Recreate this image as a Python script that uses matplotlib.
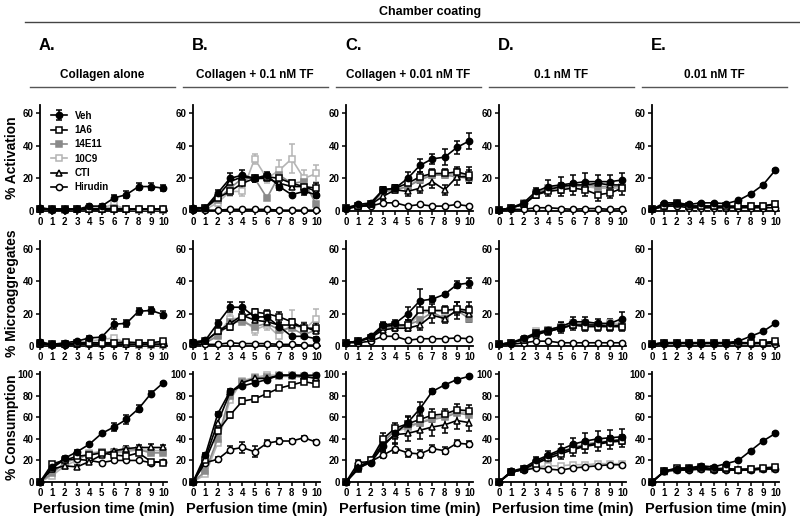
import numpy as np
import matplotlib.pyplot as plt
from matplotlib.lines import Line2D

plt.rcParams['font.family'] = ['Liberation Sans', 'DejaVu Sans']
plt.rcParams['font.weight'] = 'bold'

# Perfusion time (min)
minutes = list(range(11))
series = ['Veh', '1A6', '14E11', '10C9', 'CTI', 'Hirudin']

# % Activation
act_A = {'Veh': [2, 1, 1, 1, 3, 3, 8, 10, 15, 15, 14],
         '1A6': [1, 1, 1, 1, 1, 1, 1, 1, 1, 1, 1],
         '14E11': [1, 0.5, 0.5, 1, 1, 1.5, 2, 1, 0.5, 0.5, 0.5],
         '10C9': [1, 1, 1, 1, 2, 2, 4, 1, 1, 1, 1],
         'CTI': [1, 1, 1, 1, 1, 1, 1, 1, 1, 1, 1],
         'Hirudin': [1, 0.5, 0.5, 1, 1, 1, 1, 1, 1, 1, 1]}
act_B = {'Veh': [2, 2, 11, 20, 22, 20, 22, 15, 10, 12, 10],
         '1A6': [1, 2, 8, 12, 17, 20, 21, 20, 17, 15, 14],
         '14E11': [1, 2, 7, 14, 20, 20, 8, 22, 17, 18, 4],
         '10C9': [1, 1, 5, 12, 12, 32, 20, 25, 32, 20, 23],
         'CTI': [1, 2, 9, 18, 21, 20, 20, 17, 15, 15, 12],
         'Hirudin': [0.5, 0.5, 0.5, 1, 1, 1, 1, 0.5, 0.5, 0.5, 0.5]}
act_C = {'Veh': [2, 4, 5, 13, 14, 20, 28, 32, 33, 39, 43],
         '1A6': [2, 3, 4, 13, 14, 17, 21, 23, 23, 24, 22],
         '14E11': [2, 3, 4, 12, 13, 15, 19, 22, 22, 21, 20],
         '10C9': [2, 3, 4, 12, 13, 15, 20, 22, 22, 23, 21],
         'CTI': [2, 3, 4, 9, 13, 12, 14, 18, 13, 21, 21],
         'Hirudin': [1, 3, 3, 5, 5, 3, 4, 3, 3, 4, 3]}
act_D = {'Veh': [0.5, 2, 5, 12, 15, 16, 17, 18, 18, 18, 19],
         '1A6': [0.5, 2, 4, 10, 12, 13, 14, 13, 10, 11, 14],
         '14E11': [0.5, 2, 5, 11, 14, 15, 15, 16, 15, 15, 15],
         '10C9': [0.5, 2, 4, 11, 13, 14, 15, 15, 14, 14, 14],
         'CTI': [0.5, 2, 4, 10, 13, 15, 16, 16, 17, 16, 16],
         'Hirudin': [0.5, 1, 1, 2, 2, 1.5, 1, 1.5, 1.5, 1, 1.5]}
act_E = {'Veh': [1, 5, 5, 4, 5, 5, 4.5, 6.5, 10.5, 16, 25],
         '1A6': [1, 3, 5, 3, 3, 3, 3, 3, 3, 3, 4],
         '14E11': [1, 3, 4, 3, 3, 3, 3, 3, 3, 3, 4],
         '10C9': [1, 3, 4, 2, 2, 2, 2, 3, 3, 3, 4],
         'CTI': [1, 4, 4, 3, 3, 3, 2, 3, 3, 3, 4.5],
         'Hirudin': [1, 3, 3, 2, 2, 2, 2, 2, 2, 2, 2]}

# % Microaggregates
mic_A = {'Veh': [2.5, 1, 2, 3, 5, 5.5, 13.5, 14, 21.5, 22, 19.5],
         '1A6': [2, 1, 1, 2, 2, 2, 2, 2.5, 2, 2, 3],
         '14E11': [1, 0.5, 1, 1, 1, 1.5, 2, 1, 0.5, 0.5, 0.5],
         '10C9': [1.5, 1, 1.5, 2, 3, 4, 5, 2, 2, 2, 2],
         'CTI': [1.5, 1, 1, 1.5, 2, 2, 1, 1, 1, 1, 1],
         'Hirudin': [1, 0.5, 0.5, 1, 1, 1, 1, 1, 1, 1, 1]}
mic_B = {'Veh': [2.5, 3.5, 14, 24, 24, 18, 18, 12, 6, 6, 4.5],
         '1A6': [2, 3, 9, 12, 18, 21, 20, 18, 15, 11, 11],
         '14E11': [1, 2, 6, 15, 15, 12, 14, 10, 11, 7, 10],
         '10C9': [1, 2, 7, 17, 17, 10, 13, 6, 14, 10, 17],
         'CTI': [1, 3, 9, 14, 19, 16, 15, 13, 13, 12, 9],
         'Hirudin': [1, 1, 1, 2, 1.5, 1.5, 1.5, 1, 1, 0.5, 0.5]}
mic_C = {'Veh': [2, 3, 6, 13, 14, 20, 28, 29, 32, 38, 39],
         '1A6': [2, 3, 5, 12, 13, 13, 22, 22, 22, 23, 22],
         '14E11': [2, 3, 5, 12, 12, 13, 16, 21, 17, 22, 17],
         '10C9': [2, 3, 5, 11, 12, 12, 20, 22, 21, 23, 21],
         'CTI': [2, 3, 5, 10, 11, 11, 13, 19, 17, 22, 20],
         'Hirudin': [2, 2, 3, 6, 6, 3.5, 4.5, 4.5, 4.5, 5, 4.5]}
mic_D = {'Veh': [1, 2, 5, 8, 10, 12, 15, 15, 14, 14, 17],
         '1A6': [1, 2, 4, 8, 9, 11, 13, 12, 12, 12, 12],
         '14E11': [1, 2, 4, 8, 10, 12, 13, 14, 13, 13, 13],
         '10C9': [1, 2, 4, 9, 10, 12, 14, 14, 13, 14, 14],
         'CTI': [1, 2, 4, 7, 9, 11, 13, 13, 13, 12, 13],
         'Hirudin': [1, 1, 2, 3, 3, 2, 2, 2, 2, 2, 2]}
mic_E = {'Veh': [1, 2, 2, 2, 2, 2, 2, 3, 6, 9, 14],
         '1A6': [1, 2, 2, 2, 2, 2, 2, 2, 2, 2, 3],
         '14E11': [1, 2, 2, 2, 2, 2, 2, 2, 2, 2, 2],
         '10C9': [1, 2, 2, 2, 2, 2, 2, 2, 2, 2, 2],
         'CTI': [1, 2, 2, 2, 2, 2, 2, 2, 2, 2, 2.5],
         'Hirudin': [1, 1.5, 1.5, 1.5, 1.5, 1.5, 1.5, 1.5, 1.5, 1.5, 1.5]}

# % Consumption
con_A = {'Veh': [0, 14, 22, 28, 35, 45, 51, 58, 68, 82, 92],
         '1A6': [0, 17, 20, 24, 25, 27, 25, 24, 27, 19, 18],
         '14E11': [0, 8, 18, 22, 26, 28, 28, 30, 30, 27, 27],
         '10C9': [0, 6, 15, 20, 27, 28, 27, 28, 30, 29, 29],
         'CTI': [0, 12, 15, 14, 19, 25, 29, 31, 32, 32, 32],
         'Hirudin': [0, 13, 21, 21, 20, 18, 20, 20, 20, 18, 19]}
con_B = {'Veh': [0, 25, 63, 84, 89, 92, 95, 99, 99, 99, 99],
         '1A6': [0, 20, 47, 62, 75, 77, 82, 87, 90, 93, 91],
         '14E11': [0, 10, 40, 80, 93, 96, 97, 98, 98, 97, 97],
         '10C9': [0, 7, 36, 76, 94, 97, 99, 99, 99, 98, 98],
         'CTI': [0, 22, 55, 83, 92, 96, 96, 99, 99, 98, 96],
         'Hirudin': [0, 18, 21, 30, 32, 28, 36, 38, 38, 41, 37]}
con_C = {'Veh': [0, 13, 18, 33, 45, 55, 68, 84, 90, 95, 98],
         '1A6': [0, 12, 20, 40, 50, 54, 58, 62, 63, 67, 66],
         '14E11': [0, 14, 20, 37, 48, 52, 55, 58, 60, 64, 62],
         '10C9': [0, 14, 20, 38, 47, 50, 55, 60, 61, 65, 64],
         'CTI': [0, 14, 20, 35, 44, 45, 48, 51, 53, 57, 55],
         'Hirudin': [0, 18, 19, 25, 31, 27, 26, 31, 29, 36, 35]}
con_D = {'Veh': [0, 10, 13, 20, 25, 30, 35, 38, 40, 41, 42],
         '1A6': [0, 9, 12, 17, 22, 26, 30, 33, 35, 37, 38],
         '14E11': [0, 9, 12, 18, 23, 28, 32, 35, 37, 38, 40],
         '10C9': [0, 9, 12, 14, 15, 15, 16, 16, 17, 17, 17],
         'CTI': [0, 9, 12, 18, 24, 28, 31, 34, 36, 38, 39],
         'Hirudin': [0, 10, 11, 13, 12, 11, 13, 14, 15, 16, 16]}
con_E = {'Veh': [0, 10, 12, 13, 15, 14, 17, 20, 29, 38, 45],
         '1A6': [0, 10, 13, 13, 14, 12, 13, 11, 12, 13, 14],
         '14E11': [0, 10, 12, 12, 13, 12, 12, 11, 12, 12, 13],
         '10C9': [0, 9, 11, 12, 12, 11, 12, 11, 11, 12, 12],
         'CTI': [0, 10, 12, 12, 13, 12, 12, 12, 12, 13, 13],
         'Hirudin': [0, 10, 11, 11, 12, 11, 11, 11, 11, 12, 12]}

# error bars (SEM) for the main series
err_act_A = {'Veh': [1, 0.5, 0.5, 0.5, 1, 1, 2, 2, 2, 2, 2]}
err_act_B = {'Veh': [1, 1, 2, 3, 3, 2, 2, 2, 1, 2, 2], '10C9': [0, 0, 2, 3, 3, 3, 3, 6, 9, 5, 5],
             '1A6': [0, 1, 2, 2, 3, 2, 2, 3, 2, 3, 3]}
err_act_C = {'Veh': [0.5, 1, 1, 2, 2, 4, 4, 3, 5, 4, 5], '1A6': [0, 1, 1, 2, 2, 3, 3, 3, 3, 3, 5],
             'CTI': [0, 1, 1, 2, 2, 3, 3, 4, 3, 5, 4]}
err_act_D = {'Veh': [0.5, 1, 1, 2, 4, 5, 5, 5, 4, 4, 4], '1A6': [0, 1, 1, 2, 3, 4, 4, 4, 4, 3, 4]}
err_act_E = {'Veh': [0.5, 0.5, 0.5, 0.5, 0.5, 0.5, 0.5, 0.5, 0.5, 0.5, 0.5]}
err_mic_A = {'Veh': [1, 0.5, 0.5, 1, 1, 1, 3, 2, 2, 2, 2]}
err_mic_B = {'Veh': [1, 1, 2, 3, 3, 2, 2, 2, 1, 1, 1], '10C9': [0, 0, 2, 3, 3, 3, 3, 6, 8, 5, 6],
             '1A6': [0, 1, 2, 2, 3, 2, 2, 3, 2, 3, 3]}
err_mic_C = {'Veh': [0.5, 1, 1, 2, 2, 4, 7, 2, 1, 2, 3], '1A6': [0, 1, 1, 2, 2, 3, 5, 4, 3, 4, 5],
             'CTI': [0, 1, 1, 2, 2, 2, 3, 5, 3, 5, 5]}
err_mic_D = {'Veh': [0.5, 1, 1, 2, 2, 3, 3, 3, 3, 3, 4], '1A6': [0, 1, 1, 2, 2, 3, 3, 3, 3, 3, 3]}
err_mic_E = {'Veh': [0.5, 0.5, 0.5, 0.5, 0.5, 0.5, 0.5, 0.5, 0.5, 0.5, 0.5]}
err_con_A = {'Veh': [1, 2, 2, 2, 1, 1, 4, 4, 3, 2, 1], 'CTI': [0, 3, 3, 2, 2, 2, 2, 2, 2, 3, 2]}
err_con_B = {'Veh': [1, 2, 2, 2, 1, 1, 1, 1, 1, 1, 1], '1A6': [0, 3, 3, 3, 3, 3, 2, 2, 2, 2, 2],
             'Hirudin': [0, 2, 2, 3, 5, 5, 3, 3, 2, 2, 2]}
err_con_C = {'Veh': [1, 2, 2, 4, 5, 6, 6, 2, 1, 1, 1], '1A6': [0, 2, 3, 5, 5, 6, 6, 6, 5, 5, 5],
             'CTI': [0, 2, 3, 5, 8, 7, 8, 8, 8, 8, 8], 'Hirudin': [0, 2, 2, 3, 4, 4, 4, 3, 3, 3, 3]}
err_con_D = {'Veh': [0.5, 1, 1, 3, 4, 5, 6, 7, 7, 7, 7], '1A6': [0, 1, 1, 3, 4, 5, 6, 6, 6, 6, 6]}
err_con_E = {'Veh': [0.5, 1, 1, 1, 1, 1, 1, 1, 1, 1, 1], '1A6': [0, 1, 1, 1, 1, 1, 1, 1, 1, 1, 2]}

rows = [[act_A, act_B, act_C, act_D, act_E],
        [mic_A, mic_B, mic_C, mic_D, mic_E],
        [con_A, con_B, con_C, con_D, con_E]]
errs = [[err_act_A, err_act_B, err_act_C, err_act_D, err_act_E],
        [err_mic_A, err_mic_B, err_mic_C, err_mic_D, err_mic_E],
        [err_con_A, err_con_B, err_con_C, err_con_D, err_con_E]]
row_labels = ['% Activation', '% Microaggregates', '% Consumption']
letters = ['A.', 'B.', 'C.', 'D.', 'E.']
conditions = ['Collagen alone', 'Collagen + 0.1 nM TF', 'Collagen + 0.01 nM TF',
              '0.1 nM TF', '0.01 nM TF']

styles = {'Veh': dict(marker='o', color='black', mfc='black'),
          '1A6': dict(marker='s', color='black', mfc='white'),
          '14E11': dict(marker='s', color='#8a8a8a', mfc='#8a8a8a'),
          '10C9': dict(marker='s', color='#b4b4b4', mfc='white'),
          'CTI': dict(marker='^', color='black', mfc='white'),
          'Hirudin': dict(marker='o', color='black', mfc='white')}
draw_order = ['10C9', '14E11', 'Hirudin', 'CTI', '1A6', 'Veh']

W, H = 800, 522
fig = plt.figure(figsize=(8, 5.22), dpi=100)

col_left = [40, 193, 346, 499, 652]
row_bottom = [211, 346, 482]
row_height = [106, 105, 110]
row_ylim = [(0, 65), (0, 65), (0, 102)]
row_yticks = [[0, 20, 40, 60], [0, 20, 40, 60], [0, 20, 40, 60, 80, 100]]

for r in range(3):
    for c in range(5):
        ax = fig.add_axes([col_left[c] / W, 1 - row_bottom[r] / H, 127 / W, row_height[r] / H])
        data = rows[r][c]
        err = errs[r][c]
        for name in draw_order:
            st = styles[name]
            ax.errorbar(minutes, data[name], yerr=err.get(name), color=st['color'],
                        marker=st['marker'], mfc=st['mfc'], mec=st['color'], ms=4.5,
                        lw=1.2, mew=1.1, capsize=2.5, elinewidth=1.1, clip_on=False,
                        label=name, zorder=3)
        ax.set_xlim(0, 10.3)
        ax.set_ylim(*row_ylim[r])
        ax.set_xticks(minutes)
        ax.set_yticks(row_yticks[r])
        for s in ['top', 'right']:
            ax.spines[s].set_visible(False)
        for s in ['left', 'bottom']:
            ax.spines[s].set_linewidth(1.3)
        ax.tick_params(labelsize=7, width=1.1, length=3, pad=1.5)
        for lab in ax.get_xticklabels() + ax.get_yticklabels():
            lab.set_fontweight('bold')
        if c == 0:
            ax.set_ylabel(row_labels[r], fontsize=10, fontweight='bold')
            ax.yaxis.set_label_coords(-21 / 127, 0.5)
        if r == 2:
            ax.set_xlabel('Perfusion time (min)', fontsize=10.5, fontweight='bold', labelpad=3)
        if r == 0 and c == 0:
            handles, labels = ax.get_legend_handles_labels()
            order = [labels.index(s) for s in series]
            ax.legend([handles[i] for i in order], series, loc='upper left',
                      bbox_to_anchor=(0.02, 1.03), frameon=False, fontsize=7,
                      handlelength=1.6, handletextpad=0.8, labelspacing=0.45)

# header
fig.text(430 / W, 1 - 12 / H, 'Chamber coating', ha='center', va='center',
         fontsize=9, fontweight='bold')
fig.add_artist(Line2D([25 / W, 1.0], [1 - 22 / H, 1 - 22 / H], color='#444444', lw=1))
for c in range(5):
    x0 = col_left[c]
    fig.text((x0 - 1) / W, 1 - 46 / H, letters[c], ha='left', va='center',
             fontsize=12, fontweight='bold')
    fig.text((x0 + 62) / W, 1 - 75 / H, conditions[c], ha='center', va='center',
             fontsize=8.5, fontweight='bold')
    fig.add_artist(Line2D([(x0 - 10) / W, (x0 + 135) / W], [1 - 87 / H, 1 - 87 / H],
                          color='#555555', lw=1))

fig.savefig('out.png', dpi=100)
